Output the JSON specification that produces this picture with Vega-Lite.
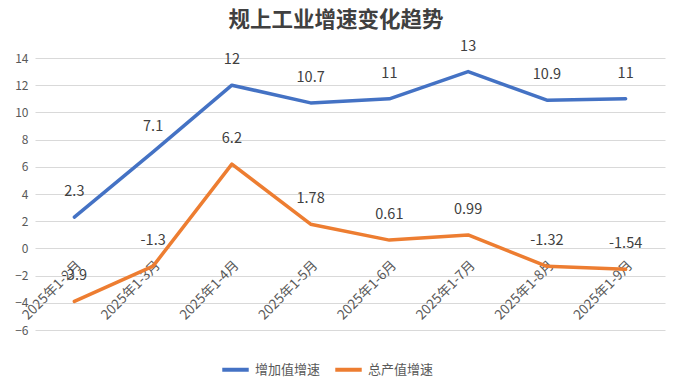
{
  "$schema": "https://vega.github.io/schema/vega-lite/v6.json",
  "width": 630,
  "height": 272,
  "autosize": "none",
  "padding": {"left": 35, "top": 58, "right": 8, "bottom": 53},
  "background": "white",
  "title": {
    "text": "规上工业增速变化趋势",
    "font": "Noto Sans CJK SC",
    "fontSize": 21.5,
    "fontWeight": "bold",
    "color": "#404040",
    "anchor": "middle",
    "dx": -14,
    "offset": 7
  },
  "config": {
    "view": {"stroke": null},
    "font": "Noto Sans CJK SC"
  },
  "data": {
    "values": [
      {"month": "2025年1-2月", "series": "增加值增速", "value": 2.3, "label": "2.3"},
      {"month": "2025年1-3月", "series": "增加值增速", "value": 7.1, "label": "7.1"},
      {"month": "2025年1-4月", "series": "增加值增速", "value": 12, "label": "12"},
      {"month": "2025年1-5月", "series": "增加值增速", "value": 10.7, "label": "10.7"},
      {"month": "2025年1-6月", "series": "增加值增速", "value": 11, "label": "11"},
      {"month": "2025年1-7月", "series": "增加值增速", "value": 13, "label": "13"},
      {"month": "2025年1-8月", "series": "增加值增速", "value": 10.9, "label": "10.9"},
      {"month": "2025年1-9月", "series": "增加值增速", "value": 11, "label": "11"},
      {"month": "2025年1-2月", "series": "总产值增速", "value": -3.9, "label": "-3.9"},
      {"month": "2025年1-3月", "series": "总产值增速", "value": -1.3, "label": "-1.3"},
      {"month": "2025年1-4月", "series": "总产值增速", "value": 6.2, "label": "6.2"},
      {"month": "2025年1-5月", "series": "总产值增速", "value": 1.78, "label": "1.78"},
      {"month": "2025年1-6月", "series": "总产值增速", "value": 0.61, "label": "0.61"},
      {"month": "2025年1-7月", "series": "总产值增速", "value": 0.99, "label": "0.99"},
      {"month": "2025年1-8月", "series": "总产值增速", "value": -1.32, "label": "-1.32"},
      {"month": "2025年1-9月", "series": "总产值增速", "value": -1.54, "label": "-1.54"}
    ]
  },
  "encoding": {
    "x": {
      "field": "month",
      "type": "nominal",
      "sort": null,
      "scale": {"type": "band", "paddingInner": 0, "paddingOuter": 0},
      "axis": {
        "title": null,
        "labelAngle": -45,
        "labelFontSize": 13.5,
        "labelColor": "#595959",
        "domain": false,
        "ticks": false,
        "grid": false,
        "offset": -81,
        "labelPadding": 9
      }
    },
    "y": {
      "field": "value",
      "type": "quantitative",
      "scale": {"domain": [-6, 14], "nice": false, "zero": false},
      "axis": {
        "title": null,
        "values": [-6, -4, -2, 0, 2, 4, 6, 8, 10, 12, 14],
        "labelFontSize": 12,
        "labelColor": "#595959",
        "domain": false,
        "ticks": false,
        "gridColor": "#d9d9d9",
        "gridWidth": 1,
        "labelPadding": 7
      }
    },
    "color": {
      "field": "series",
      "type": "nominal",
      "sort": ["增加值增速", "总产值增速"],
      "scale": {"domain": ["增加值增速", "总产值增速"], "range": ["#4472C4", "#ED7D31"]},
      "legend": {
        "title": null,
        "orient": "none",
        "direction": "horizontal",
        "legendX": 185,
        "legendY": 296,
        "symbolType": "stroke",
        "symbolSize": 700,
        "symbolStrokeWidth": 4,
        "labelFontSize": 13,
        "labelColor": "#595959",
        "columnPadding": 6,
        "symbolOffset": 0
      }
    }
  },
  "layer": [
    {
      "mark": {"type": "line", "strokeWidth": 3.5, "strokeCap": "round", "strokeJoin": "round"}
    },
    {
      "mark": {"type": "text", "dy": -25, "fontSize": 14.5, "color": "#404040"},
      "encoding": {
        "text": {"field": "label", "type": "nominal"},
        "color": {"value": "#404040"}
      }
    }
  ]
}
